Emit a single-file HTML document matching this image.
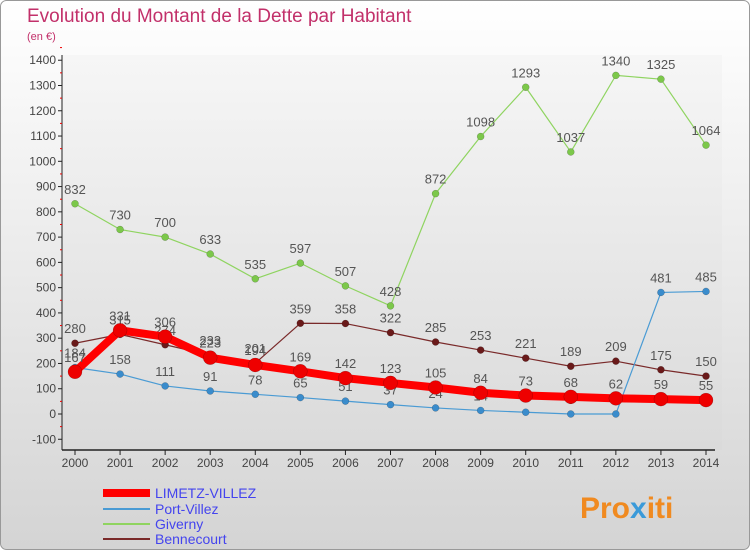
<!DOCTYPE html>
<html><head><meta charset="utf-8"><style>
html,body{margin:0;padding:0}
body{width:750px;height:550px;overflow:hidden;font-family:"Liberation Sans",sans-serif}
</style></head><body>
<svg width="750" height="550" xmlns="http://www.w3.org/2000/svg" id="svg">
<defs>
<linearGradient id="bg" x1="0" y1="0" x2="0" y2="1"><stop offset="0" stop-color="#ffffff"/><stop offset="1" stop-color="#d4d4d4"/></linearGradient>
<linearGradient id="pbg" x1="0" y1="0" x2="0" y2="1"><stop offset="0" stop-color="#f6f6f6"/><stop offset="1" stop-color="#dadada"/></linearGradient>
</defs>
<rect x="0.5" y="0.5" width="749" height="549" rx="6" fill="url(#bg)" stroke="#999"/>
<text x="27" y="22" font-size="19" fill="#c2306a">Evolution du Montant de la Dette par Habitant</text>
<text x="27" y="40" font-size="11" fill="#c2306a">(en €)</text>
<g id="plot"></g>
<g>
<line x1="103" y1="493" x2="150" y2="493" stroke="#ff0000" stroke-width="8"/>
<text x="155" y="498" font-size="14" fill="#4444ee">LIMETZ-VILLEZ</text>
<line x1="103" y1="509" x2="150" y2="509" stroke="#4a9bd4" stroke-width="2"/>
<text x="155" y="514" font-size="14" fill="#4444ee">Port-Villez</text>
<line x1="103" y1="524" x2="150" y2="524" stroke="#8fd460" stroke-width="2"/>
<text x="155" y="529" font-size="14" fill="#4444ee">Giverny</text>
<line x1="103" y1="539" x2="150" y2="539" stroke="#7a2a2a" stroke-width="2"/>
<text x="155" y="544" font-size="14" fill="#4444ee">Bennecourt</text>
</g>
<text x="580" y="518" font-size="30" font-weight="bold" fill="#f08a20">Pro<tspan fill="#3a9ad9">x</tspan>iti</text>
</svg>
<script>
const years=[2000,2001,2002,2003,2004,2005,2006,2007,2008,2009,2010,2011,2012,2013,2014];
const limetz=[167,331,306,223,194,169,142,123,105,84,73,68,62,59,55];
const portVillez=[184,158,111,91,78,65,51,37,24,14,7,0,0,481,485];
const giverny=[832,730,700,633,535,597,507,428,872,1098,1293,1037,1340,1325,1064];
const bennecourt=[280,315,274,233,201,359,358,322,285,253,221,189,209,175,150];
const yTicks=[-100,0,100,200,300,400,500,600,700,800,900,1000,1100,1200,1300,1400];
const NS="http://www.w3.org/2000/svg";
const plot=document.getElementById('plot');
const x=i=>75+i*(706-75)/(years.length-1);
const y=v=>414-v*25.27/100;
function mk(t,a,p){const e=document.createElementNS(NS,t);for(const k in a)e.setAttribute(k,a[k]);(p||plot).appendChild(e);return e;}
const bgr=mk('rect',{x:62,y:55,width:660,height:395,fill:'url(#pbg)'});


const ax=mk('line',{x1:62,y1:55,x2:62,y2:450,stroke:'#222'});


const bx=mk('line',{x1:62,y1:450,x2:715,y2:450,stroke:'#222','stroke-width':1.5});


yTicks.forEach(v=>{
  const t=mk('text',{x:56,y:y(v)+4,'font-size':12,'text-anchor':'end',fill:'#444'});t.textContent=v;
  
  
  mk('line',{x1:58,y1:y(v),x2:62,y2:y(v),stroke:'#222'});
  mk('line',{x1:60,y1:y(v+50),x2:62,y2:y(v+50),stroke:'#e00'});
});
years.forEach((yr,i)=>{
  mk('line',{x1:x(i),y1:450,x2:x(i),y2:455,stroke:'#222'});
  const t=mk('text',{x:x(i),y:467,'font-size':12,'text-anchor':'middle',fill:'#444'});t.textContent=yr;
  
  
});
function series(data,color,w,r,name,dot){
  const g=mk('g',{});
  
  
  mk('polyline',{points:data.map((v,i)=>x(i)+','+y(v)).join(' '),fill:'none',stroke:color,'stroke-width':w,'stroke-linejoin':'round'},g);
  data.forEach((v,i)=>{
    const c=mk('circle',{cx:x(i),cy:y(v),r:r,fill:dot,stroke:'rgba(0,0,0,0.3)','stroke-width':0.5},g);
    
    
    const t=mk('text',{x:x(i),y:y(v)-10,'font-size':13,'text-anchor':'middle',fill:'#555'},g);t.textContent=v;
    
    
  });
}
series(giverny,'#8fd460',1.2,3.5,'giverny','#7cc84a');
series(bennecourt,'#7a2a2a',1.2,3.5,'bennecourt','#6a1a1a');
series(portVillez,'#4a9bd4',1.2,3.5,'port-villez','#3a8ccc');
series(limetz,'#ff0000',8,7,'limetz','#ee0000');
</script>
</body></html>
